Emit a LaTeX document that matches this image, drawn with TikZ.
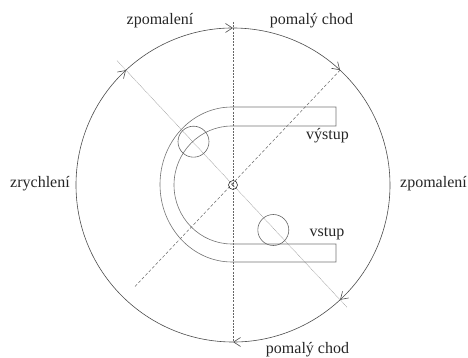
\documentclass[tikz,border=0pt]{standalone}
\usepackage{fontspec}
\setmainfont{Liberation Serif}
\usetikzlibrary{arrows.meta}
\begin{document}
\begin{tikzpicture}[x=1pt,y=1pt,
  ring/.style={draw=black!70, line width=0.6pt},
  tipped/.style={-{Straight Barb[length=7pt,width=9pt,line width=0.6pt]}},
  band/.style={draw=black!55, line width=0.6pt},
  wheel/.style={draw=black!60, line width=0.6pt},
  vline/.style={draw=black!60, line width=0.5pt, dash pattern=on 2pt off 1.2pt},
  dline/.style={draw=black!60, line width=0.5pt, dash pattern=on 3pt off 2pt},
  lline/.style={draw=black!35, line width=0.5pt, dash pattern=on 1pt off 0.6pt},
  lbl/.style={font=\fontsize{16}{19}\selectfont, inner sep=0pt, anchor=base, text=black!85}]
\useasboundingbox (0,0) rectangle (468,358);
\coordinate (C) at (233,173);
\path (C) ++(133:157) coordinate (pUL)
      (C) ++(90:157) coordinate (pT)
      (C) ++(47:157) coordinate (pUR)
      (C) ++(-47:157) coordinate (pLR)
      (C) ++(-90:157) coordinate (pB)
      (C) ++(90:163) coordinate (vTop)
      (C) ++(133:170) coordinate (lA)
      (C) ++(-47:167) coordinate (lB)
      (C) ++(226:143) coordinate (dB);
% guide lines
\draw[vline] (vTop) -- (pB);
\draw[dline] (pUR) -- (dB);
\draw[lline] (lA) -- (lB);
% outer circle with arrows (clockwise)
\draw[ring,tipped] (pUL) arc[start angle=133,end angle=90,radius=157];
\draw[ring,tipped] (pT) arc[start angle=90,end angle=47,radius=157];
\draw[ring,tipped] (pUR) arc[start angle=47,end angle=-47,radius=157];
\draw[ring,tipped] (pLR) arc[start angle=-47,end angle=-90,radius=157];
\draw[ring,tipped] (pB) arc[start angle=-90,end angle=-227,radius=157];
% U-shaped band
\draw[band] (336,251) -- (232,251)
  arc[start angle=90,end angle=270,x radius=72,y radius=77.5]
  -- (336,96) -- (336,114) -- (232,114)
  arc[start angle=270,end angle=90,x radius=58,y radius=59]
  -- (336,232) -- cycle;
% wheels
\node[circle, wheel, minimum size=31pt, inner sep=0pt] (w1) at (193.5,216.3) {};
\node[circle, wheel, minimum size=31pt, inner sep=0pt] (w2) at (273.3,128) {};
\node[circle, draw=black!80, line width=0.6pt, minimum size=9pt, inner sep=0pt,
      font=\fontsize{5}{5}\selectfont] (hub) at (C) {z};
% labels
\node[lbl] (t1) at (160,333) {zpomalení};
\node[lbl] (t2) at (311.5,333) {pomalý chod};
\node[lbl] (t3) at (40,170.5) {zrychlení};
\node[lbl] (t4) at (433.5,170.5) {zpomalení};
\node[lbl] (t5) at (327.5,218) {výstup};
\node[lbl] (t6) at (327,121.3) {vstup};
\node[lbl] (t7) at (307.5,4.7) {pomalý chod};
\end{tikzpicture}
\end{document}
